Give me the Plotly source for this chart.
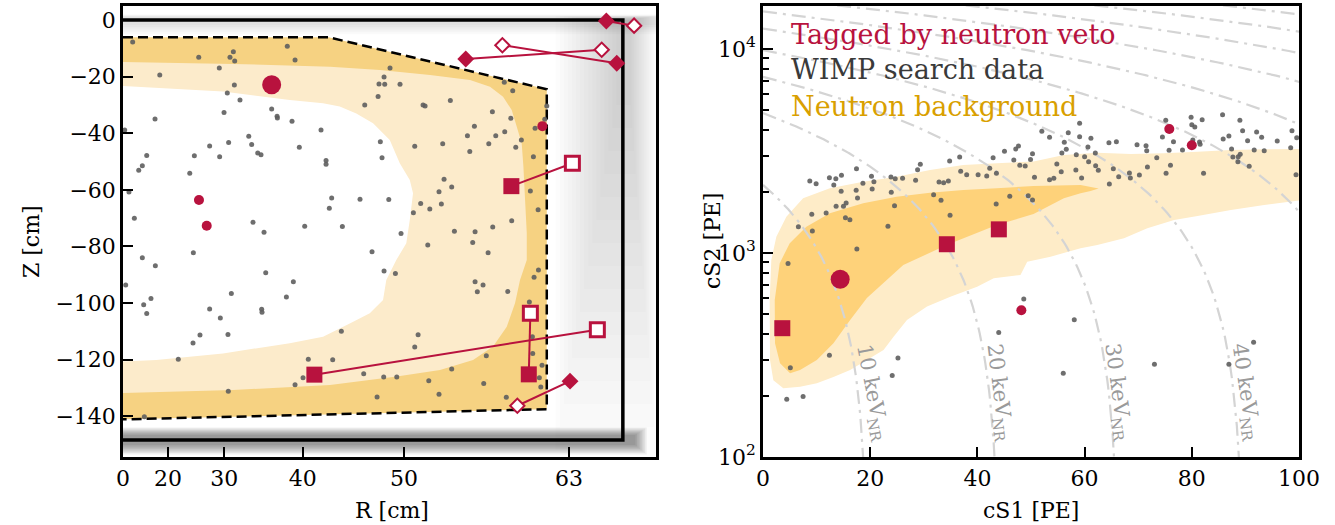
import numpy as np
import plotly.graph_objects as go

# ---------------- LEFT PANEL DATA (R^2 in cm^2, Z in cm) ----------------
r_tick_labels = [0, 20, 30, 40, 50, 63]          # R [cm] tick labels (axis is linear in R^2)
z_tick_values = [0, -20, -40, -60, -80, -100, -120, -140]

tpc_r2 = [0, 4448, 4448, 0]                      # TPC wall (black)
tpc_z = [0, 0, -148.4, -148.4]

fv_r2 = [0, 1830, 3771, 3771, 0]                 # fiducial volume (dashed)
fv_z = [-6.1, -6.1, -24.5, -137.5, -141.1]

nbg_light_r2 = [0, 979, 1842, 2287, 2732, 3088, 3266, 3382, 3459, 3504, 3548, 3563, 3578, 3593, 3593,
                3533, 3489, 3415, 3293, 3115, 2821, 2436, 1842, 979, 0]
nbg_light_z = [-14.8, -15.5, -16.5, -17.7, -19.4, -21.2, -23.6, -27.1, -31.8, -37.7, -43.6, -51.8, -63.6,
               -75.3, -84.8, -91.9, -100, -108.4, -115.4, -120.1, -123.7, -126, -129, -130.7, -131.8]

core_r2 = [0, 890, 1484, 1780, 1929, 2076, 2225, 2374, 2463, 2552, 2581, 2552, 2521, 2432, 2343, 2314,
           2196, 2018, 1780, 1484, 890, 296, 0]
core_z = [-23.3, -25.3, -28.3, -29.4, -30.6, -33, -36.5, -42.4, -50.6, -56.5, -61.2, -70.7, -78.9, -84.8,
          -91.9, -98.9, -103.6, -107.2, -111.9, -114.2, -117.8, -120.1, -120.7]

wimp_r2 = [86, 674, 327, 982, 952, 994, 857, 991, 928, 1041, 1462, 1531, 1323, 1371, 1374, 1504, 899, 285,
           15, 1762, 1569, 1119, 1145, 940, 771, 860, 635, 1199, 1228, 211, 172, 140, 594, 1807, 1807, 53,
           101, 1157, 1255, 1617, 1836, 626, 172,
           2290, 2305, 2596, 1857, 2109, 2365, 2649, 2584, 1952, 2474, 288, 2216, 2323, 2424, 24, 1270,
           1516, 964, 1454, 249, 184, 211, 771, 1234, 1237, 866, 685, 934, 623, 1943, 2626, 2596, 492,
           1649, 1866, 2142, 2320, 2436, 1602, 2278, 2329, 2465, 2270, 2151, 2670,
           937, 1531, 190,
           2376, 2323, 2688, 2913, 3393, 3468, 3287, 3451, 3127, 3065, 3317, 3397, 3255, 3086, 2845, 3495,
           3545, 3667, 3771, 3753, 3652, 2857, 2925, 2812, 2833, 2730, 3625, 3694, 3459, 3290, 3133, 2949,
           3112, 2712, 3249,
           3133, 3204, 3153, 3424, 3697, 3658, 3616, 2721, 2925, 3233, 3210, 2812, 2261, 3411, 3718, 3705,
           3729, 3646, 3643]
wimp_z = [-7.8, -13.2, -19.4, -11.2, -13.2, -14.5, -17, -23, -25.8, -28.3, -9.3, -14.1, -31.4, -34, -34.6,
          -35.8, -32.7, -35, -38.9, -38.9, -45, -41.1, -44, -43.3, -44.5, -48.3, -48, -47, -47.6, -47.9,
          -51.5, -53.1, -54.1, -49.6, -51, -60.8, -70, -71.5, -75, -72.9, -66.5, -82.2, -84,
          -43, -48.7, -44.6, -62.9, -63.3, -63.4, -64.8, -68.1, -73, -75.4, -86.8, -81.9, -88.7, -89.6,
          -93.6, -89.3, -92.5, -96.6, -97.9, -98.4, -100.6, -103.7, -102.1, -102.2, -103.3, -105.3,
          -111.3, -111.1, -114.1, -110, -111.2, -115.5, -119.9, -119.9, -120, -125, -126.1, -126.1,
          -126.4, -22.6, -22.7, -22.7, -27, -30, -30,
          -131.2, -128.9, -140.2,
          -17, -20.1, -30.4, -28.4, -22, -25, -32.4, -34.7, -37.5, -40.9, -40.9, -39.5, -43.7, -46.5,
          -43.7, -45, -42.4, -38.2, -30.4, -35.1, -48.3, -56.3, -59, -60.7, -65, -66.8, -60.4, -67, -70.9,
          -73.1, -74.8, -74.6, -78.6, -79.5, -82.2,
          -92.5, -93.6, -96, -95.9, -88.3, -90.9, -99.6, -127.5, -123.3, -118.6, -128.4, -132.2, -133.2,
          -133.3, -129.7, -126.4, -122, -117.8, -111.9]

# tagged events (left)
big_r2, big_z = [1323], [-22.9]
dot_r2, dot_z = [676, 745, 3732], [-63.6, -72.7, -37.5]
sq_fill_r2, sq_fill_z = [3456, 1703, 3611], [-58.7, -125.3, -125.2]
sq_open_r2, sq_open_z = [3999, 4221, 3625], [-50.6, -109.4, -103.6]
dia_fill_r2, dia_fill_z = [3050, 4394, 4301, 3978], [-13.8, -15.3, -0.35, -127.6]
dia_open_r2, dia_open_z = [4260, 3376, 4548, 3509], [-10.5, -8.9, -2.0, -136.3]

# ---------------- RIGHT PANEL DATA (cS1, cS2 in PE) ----------------
nbg_light_s1 = [1.25, 1.55, 2.49, 4.36, 7.48, 12.47, 18.69, 24.92, 31.16, 37.38, 43.61, 50.47, 56.13, 62.37,
                68.6, 74.8, 81.07, 87.29, 93.5, 100.7, 100.7, 93.5, 87.29, 81.07, 76.7, 71.7, 67.35, 62.37,
                59.25, 53.64, 49.29, 48.04, 43.05, 39.94, 34.95, 30.6, 26.86, 24.36, 22.49, 19.38, 16.26,
                13.14, 10.04, 6.92, 3.79, 1.93, 1.31]
nbg_light_s2 = [589, 924, 1202, 1507, 1854, 2076, 2237, 2367, 2553, 2700, 2753, 2810, 3022, 3103, 3057, 3083,
                3139, 3201, 3223, 3236, 1820, 1718, 1625, 1518, 1452, 1321, 1180, 1094, 1054, 959, 906, 780,
                751, 684, 611, 546, 470, 389, 335, 299, 267, 247, 230, 221, 217, 238, 299]
nbg_dark_s1 = [2.19, 3.12, 4.99, 8.09, 12.47, 18.69, 24.92, 31.16, 37.38, 43.61, 50.47, 59.25, 62.62, 61.12,
               59.25, 56.13, 50.47, 43.61, 34.26, 26.17, 19.38, 16.26, 13.14, 10.04, 6.92, 5.05, 3.18, 2.24]
nbg_dark_s2 = [589, 891, 1117, 1346, 1567, 1754, 1889, 1976, 2037, 2076, 2130, 2154, 2070, 2014, 1963, 1854,
               1552, 1371, 1094, 873, 601, 470, 361, 299, 267, 257, 288, 361]

wimp_s1 = [8.73, 9.91, 12.39, 13.59, 14.64, 13.21, 14.58, 17.44, 18.64, 20.24, 20.69, 20.37, 17.38, 15.51,
           15.01, 13.64, 11.78, 9.10, 17.63, 15.38, 16.21, 9.21, 6.60, 17.51, 4.67, 23.31, 23.93, 24.54,
           23.87, 24.67, 26.04, 28.47, 28.84, 29.35, 32.84, 33.70, 34.58, 34.82, 36.69, 31.83, 33.21, 34.90,
           36.88, 38.00, 40.13, 41.74, 42.30, 43.55, 42.93, 45.05, 47.16, 47.66, 46.79, 47.91, 48.92, 49.91,
           50.28, 43.50, 46.04, 49.48, 50.28, 48.65,
           52.02, 53.46, 59.07, 56.95, 59.07, 61.18, 56.21, 60.62, 56.58, 55.76, 58.45, 62.0, 60.0, 60.75,
           62.06, 62.56, 54.82, 55.64, 58.37, 50.65, 53.46, 54.26, 59.44, 64.62, 65.36, 66.36, 68.36, 68.54,
           70.22, 71.72, 64.54, 65.93, 69.78, 71.46, 71.59, 73.46, 74.52, 75.14, 76.58, 75.76, 78.26, 76.02,
           75.2, 79.87, 80.0, 80.56, 81.93, 80.19, 81.44, 81.55, 82.19, 85.74, 85.85, 86.92, 88.97, 89.48,
           87.42, 87.66, 88.66, 89.03, 88.6, 90.41, 90.71, 92.09, 93.03, 91.64, 93.51, 95.94, 98.69, 99.57,
           98.45, 99.44,
           12.39, 5.10, 25.18, 24.11, 4.43, 7.48, 43.98, 58.07, 56.02, 73.03, 86.92, 91.53]
wimp_s2 = [2254, 2188, 2339, 2312, 2404, 2154, 2006, 2589, 2197, 2377, 2237, 2060, 2030, 1758, 1694, 1694,
           1571, 1548, 1861, 1490, 1456, 1282, 1345, 1046, 887, 1352, 1985, 1706, 2358, 2314, 2323, 2271,
           2560, 2722, 2228, 2213, 2254, 2825, 2955, 1931, 1812, 1531, 2515, 2421, 2421, 2385, 2602, 2459,
           2933, 3152, 3234, 3347, 2856, 2690, 2669, 2877, 3067, 1738, 1897, 1910, 1820, 595,
           3953, 3690, 4325, 3889, 3715, 3648, 3490, 3311, 3223, 3092, 3034, 3092, 2966, 2803, 2679, 2543,
           2730, 2504, 2551, 2350, 2287, 2323, 2333, 2178, 2589, 2366, 2466, 2333, 2412, 2641, 3472, 3513,
           3396, 3357, 3171, 2933, 3704, 4471, 3513, 3187, 3199, 2690, 2459, 4624, 4256, 4146, 4500, 3581,
           3499, 3412, 2459, 4764, 3622, 3748, 4471, 3977, 3234, 2955, 2966, 3048, 2803, 3554, 2661, 3919,
           3690, 3199, 3171, 3540, 3977, 3673, 3281, 2421,
           315, 274, 306, 251, 192, 198, 408, 471, 257, 285, 285, 365]

tag_sq_s1, tag_sq_s2 = [3.6, 34.3, 44.0], [428, 1104, 1306]
tag_big_s1, tag_big_s2 = [14.4], [743]
tag_dot_s1, tag_dot_s2 = [48.2, 75.8, 80.0], [524, 4055, 3373]

# constant-energy (keVnr) guide lines: cS2 = slope*(intercept - cS1)
energies_kev = [10, 20, 30, 40, 50, 60, 70, 80, 90, 100]
energy_cs1_intercepts = [19.6, 44.1, 66.4, 89.7, 114.5, 139, 163, 187, 211, 235]
energy_slope = 110.0
energy_label_s1 = [20.4, 44.1, 66.2, 90.1]

# ---------------- STYLE ----------------
RED = "#b8123e"
GRAY = "#5e5e5e"
FONT = "DejaVu Serif"
L_DARK, L_LIGHT = "#f6d282", "#fcebcb"
R_DARK, R_LIGHT = "#fed27a", "#feecc8"

fig = go.Figure()


def add(tr, right=False):
    if right:
        tr.update(xaxis="x2", yaxis="y2")
    fig.add_trace(tr)


# ---- left panel ----
add(go.Scatter(x=fv_r2, y=fv_z, fill="toself", fillcolor=L_DARK, mode="none", hoverinfo="skip"))
add(go.Scatter(x=nbg_light_r2, y=nbg_light_z, fill="toself", fillcolor=L_LIGHT, mode="none", hoverinfo="skip"))
add(go.Scatter(x=core_r2, y=core_z, fill="toself", fillcolor="white", mode="none", hoverinfo="skip"))

shapes = []


def cloud(x0a, x0b, x1a, x1b, y0a, y0b, y1a, y1b, n, alpha):
    """soft gray haze built from nested translucent rectangles (style only)"""
    for t in np.linspace(0, 1, n):
        shapes.append(dict(type="rect", xref="x", yref="y",
                           x0=x0a + t * (x0b - x0a), x1=x1a + t * (x1b - x1a),
                           y0=y0a + t * (y0b - y0a), y1=y1a + t * (y1b - y1a),
                           fillcolor=f"rgba(0,0,0,{alpha})", line=dict(width=0), layer="below"))


# haze of wall events around the TPC side wall, top and bottom
cloud(3850, 4390, 4743, 4520, -152, -30, 1.5, 0, 16, 0.011)
cloud(0, 0, 4743, 4743, -5, -1.8, 2.0, 1.0, 6, 0.02)
cloud(0, 0, 4660, 4560, -153.5, -150.2, -144, -146.6, 8, 0.06)

add(go.Scatter(x=tpc_r2, y=tpc_z, mode="lines", line=dict(color="black", width=3.5), hoverinfo="skip"))
add(go.Scatter(x=fv_r2, y=fv_z, mode="lines", line=dict(color="black", width=2.5, dash="10px,5px"),
               hoverinfo="skip"))
add(go.Scatter(x=wimp_r2, y=wimp_z, mode="markers", marker=dict(color=GRAY, size=5, opacity=0.9),
               hoverinfo="skip"))

# connectors between the paired tagged-event positions
for i in range(len(sq_fill_r2)):
    add(go.Scatter(x=[sq_fill_r2[i], sq_open_r2[i]], y=[sq_fill_z[i], sq_open_z[i]], mode="lines",
                   line=dict(color=RED, width=2), hoverinfo="skip"))
for i in range(len(dia_fill_r2)):
    add(go.Scatter(x=[dia_fill_r2[i], dia_open_r2[i]], y=[dia_fill_z[i], dia_open_z[i]], mode="lines",
                   line=dict(color=RED, width=2), hoverinfo="skip"))

add(go.Scatter(x=sq_open_r2, y=sq_open_z, mode="markers",
               marker=dict(symbol="square", size=14, color="white", line=dict(color=RED, width=3)),
               hoverinfo="skip"))
add(go.Scatter(x=dia_open_r2, y=dia_open_z, mode="markers",
               marker=dict(symbol="diamond", size=11, color="white", line=dict(color=RED, width=2)),
               hoverinfo="skip"))
add(go.Scatter(x=sq_fill_r2, y=sq_fill_z, mode="markers",
               marker=dict(symbol="square", size=16, color=RED), hoverinfo="skip"))
add(go.Scatter(x=dia_fill_r2, y=dia_fill_z, mode="markers",
               marker=dict(symbol="diamond", size=13, color=RED), hoverinfo="skip"))
add(go.Scatter(x=dot_r2, y=dot_z, mode="markers", marker=dict(size=10, color=RED), hoverinfo="skip"))
add(go.Scatter(x=big_r2, y=big_z, mode="markers", marker=dict(size=19, color=RED), hoverinfo="skip"))

# ---- right panel ----
add(go.Scatter(x=nbg_light_s1, y=nbg_light_s2, fill="toself", fillcolor=R_LIGHT, mode="none",
               hoverinfo="skip"), True)
add(go.Scatter(x=nbg_dark_s1, y=nbg_dark_s2, fill="toself", fillcolor=R_DARK, mode="none",
               hoverinfo="skip"), True)
for c in energy_cs1_intercepts:
    s1 = np.linspace(max(0.0, c - 17000 / energy_slope), c - 0.85, 200)
    s2 = energy_slope * (c - s1)
    add(go.Scatter(x=s1, y=s2, mode="lines", line=dict(color="#d4d4d4", width=2.2, dash="14px,6px,3px,6px"),
                   hoverinfo="skip"), True)
add(go.Scatter(x=wimp_s1, y=wimp_s2, mode="markers", marker=dict(color=GRAY, size=5, opacity=0.9),
               hoverinfo="skip"), True)
add(go.Scatter(x=tag_sq_s1, y=tag_sq_s2, mode="markers", marker=dict(symbol="square", size=16, color=RED),
               hoverinfo="skip"), True)
add(go.Scatter(x=tag_big_s1, y=tag_big_s2, mode="markers", marker=dict(size=19, color=RED),
               hoverinfo="skip"), True)
add(go.Scatter(x=tag_dot_s1, y=tag_dot_s2, mode="markers", marker=dict(size=10, color=RED),
               hoverinfo="skip"), True)

# ---------------- LAYOUT ----------------
W, H = 1335, 525
tickfont = dict(family=FONT, size=22, color="black")
axis_common = dict(showline=True, linecolor="black", linewidth=2.5, mirror=True, ticks="inside",
                   ticklen=10, tickwidth=2, tickcolor="black", showgrid=False, zeroline=False,
                   tickfont=tickfont, automargin=False)

annotations = []
# axis titles
for txt, x, y, ang in [("R [cm]", 392, 510, 0), ("cS1 [PE]", 1031, 510, 0),
                       ("Z [cm]", 31, 241, -90), ("cS2 [PE]", 712, 241, -90)]:
    annotations.append(dict(text=txt, x=x / W, y=1 - y / H, xref="paper", yref="paper", showarrow=False,
                            textangle=ang, font=dict(family=FONT, size=22, color="black"),
                            xanchor="center", yanchor="middle"))
# legend texts
for txt, col, y in [("Tagged by neutron veto", RED, 34), ("WIMP search data", "#3a3a3a", 70),
                    ("Neutron background", "#d9a000", 106)]:
    annotations.append(dict(text=txt, x=789 / W, y=1 - y / H, xref="paper", yref="paper", showarrow=False,
                            font=dict(family=FONT, size=27, color=col), xanchor="left", yanchor="middle"))
# energy labels
for e, xs, ang in zip(energies_kev[:4], energy_label_s1, [79, 83, 82.5, 81.5]):
    annotations.append(dict(text=f"{e} keV<sub>NR</sub>", x=xs, y=np.log10(206), xref="x2", yref="y2",
                            showarrow=False, textangle=ang, font=dict(family=FONT, size=21, color="#9a9a9a"),
                            xanchor="center", yanchor="middle"))

fig.update_layout(
    width=W, height=H, margin=dict(l=0, r=0, t=0, b=0, autoexpand=False),
    paper_bgcolor="white", plot_bgcolor="white", showlegend=False,
    shapes=shapes, annotations=annotations,
    xaxis=dict(domain=[123 / W, 656 / W], range=[0, 4743], tickmode="array",
               tickvals=[r * r for r in r_tick_labels], ticktext=[str(r) for r in r_tick_labels],
               **axis_common),
    yaxis=dict(domain=[68 / H, 519 / H], range=[-154.4, 4.95], tickmode="array",
               tickvals=z_tick_values, ticktext=[str(v).replace("-", "\u2212") for v in z_tick_values],
               **axis_common),
    xaxis2=dict(domain=[763 / W, 1299 / W], range=[0, 100], anchor="y2", tickmode="array",
                tickvals=[0, 20, 40, 60, 80, 100], ticktext=["0", "20", "40", "60", "80", "100"],
                **axis_common),
    yaxis2=dict(domain=[68 / H, 519 / H], type="log", range=[2, 4.2108], anchor="x2", tickmode="array",
                tickvals=[100, 1000, 10000], ticktext=["10<sup>2</sup>", "10<sup>3</sup>", "10<sup>4</sup>"],
                minor=dict(tickmode="array",
                           tickvals=[200, 300, 400, 500, 600, 700, 800, 900,
                                     2000, 3000, 4000, 5000, 6000, 7000, 8000, 9000],
                           ticks="inside", ticklen=6, tickwidth=1.5, tickcolor="black", showgrid=False),
                **axis_common),
)

# remove the default page margin so the 1335x525 figure fills the window exactly
fig.write_html("out.html", config={"displayModeBar": False},
               post_script="document.body.style.margin='0';document.body.style.overflow='hidden';")
